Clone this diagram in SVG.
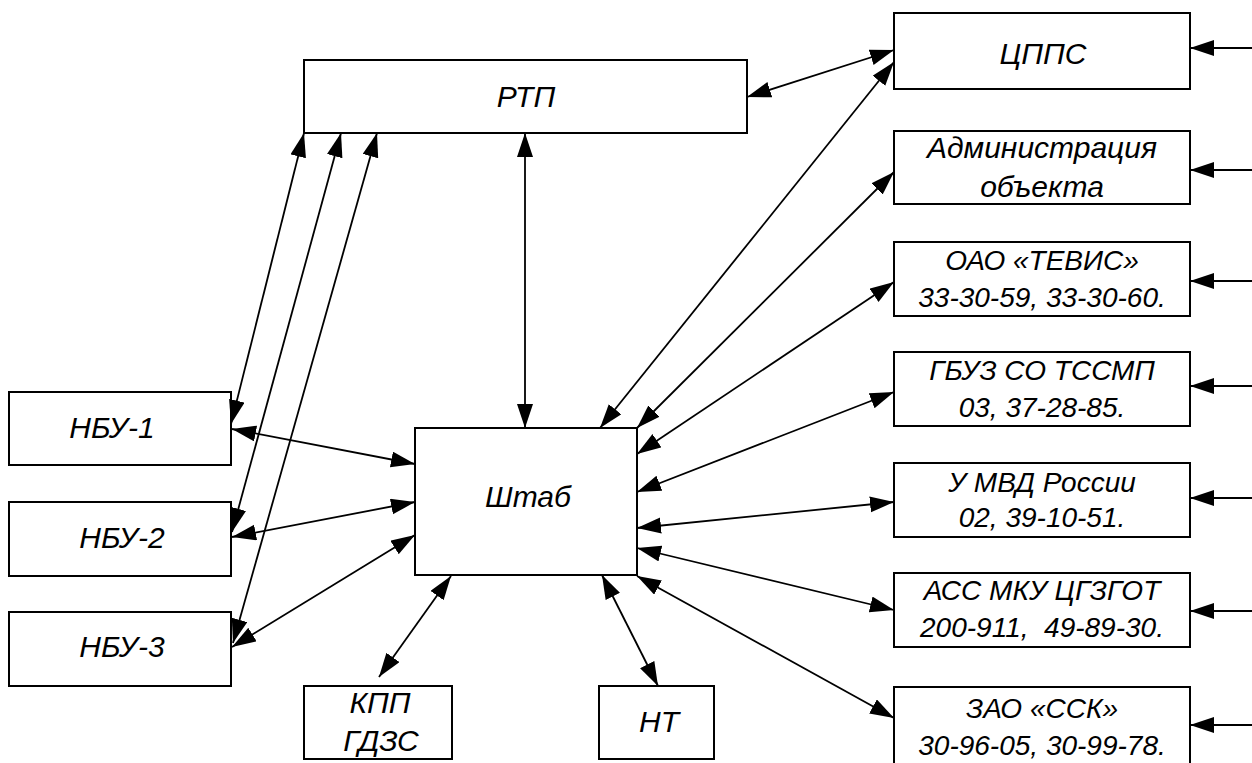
<svg xmlns="http://www.w3.org/2000/svg" width="1252" height="763" viewBox="0 0 1252 763">
<style>
.box{fill:#fff;stroke:#000;stroke-width:2}
.t{font-family:"Liberation Sans",Arial,sans-serif;font-style:italic;font-size:30px;text-anchor:middle;fill:#000}
.p{font-size:28px}
.c{stroke:#000;stroke-width:1.8;fill:none}
.bi{marker-start:url(#ah);marker-end:url(#ah)}
.one{marker-end:url(#ah)}
</style>
<defs>
<marker id="ah" markerUnits="userSpaceOnUse" markerWidth="26" markerHeight="17" refX="24" refY="8" orient="auto-start-reverse">
<path d="M0,0 L24,8 L0,16 z" fill="#000"/>
</marker>
</defs>
<rect width="1252" height="763" fill="#fff"/>
<g id="n-rtp"><rect class="box" x="304" y="60" width="443" height="73"/><text class="t" x="526" y="107">РТП</text></g>
<g id="n-shtab"><rect class="box" x="415" y="428" width="222" height="147"/><text class="t" x="528" y="507">Штаб</text></g>
<g id="n-cpps"><rect class="box" x="894" y="13" width="296" height="76"/><text class="t" x="1043" y="64">ЦППС</text></g>
<g id="n-admin"><rect class="box" x="894" y="131" width="296" height="73"/><text class="t" x="1042" y="158">Администрация</text><text class="t" x="1042" y="197">объекта</text></g>
<g id="n-tevis"><rect class="box" x="894" y="242" width="296" height="74"/><text class="t p" x="1042" y="270">ОАО «ТЕВИС»</text><text class="t p" x="1042" y="307">33-30-59, 33-30-60.</text></g>
<g id="n-gbuz"><rect class="box" x="894" y="352" width="296" height="74"/><text class="t p" x="1042" y="380">ГБУЗ СО ТССМП</text><text class="t p" x="1042" y="417">03, 37-28-85.</text></g>
<g id="n-mvd"><rect class="box" x="894" y="463" width="296" height="74"/><text class="t p" x="1042" y="492">У МВД России</text><text class="t p" x="1042" y="527">02, 39-10-51.</text></g>
<g id="n-ass"><rect class="box" x="894" y="573" width="296" height="74"/><text class="t p" x="1042" y="600">АСС МКУ ЦГЗГОТ</text><text class="t p" x="1042" y="637" xml:space="preserve">200-911,  49-89-30.</text></g>
<g id="n-ssk"><rect class="box" x="894" y="687" width="296" height="90"/><text class="t p" x="1042" y="718">ЗАО «ССК»</text><text class="t p" x="1042" y="755">30-96-05, 30-99-78.</text></g>
<g id="n-nbu1"><rect class="box" x="9" y="392" width="222" height="73"/><text class="t" x="112" y="438">НБУ-1</text></g>
<g id="n-nbu2"><rect class="box" x="9" y="502" width="222" height="74"/><text class="t" x="122" y="548">НБУ-2</text></g>
<g id="n-nbu3"><rect class="box" x="9" y="612" width="222" height="74"/><text class="t" x="122" y="657">НБУ-3</text></g>
<g id="n-kpp"><rect class="box" x="304" y="686" width="148" height="73"/><text class="t" x="380" y="713">КПП</text><text class="t" x="381" y="751">ГДЗС</text></g>
<g id="n-nt"><rect class="box" x="599" y="686" width="115" height="73"/><text class="t" x="659" y="732">НТ</text></g>
<g id="connectors">
<line class="c bi" x1="747" y1="97" x2="894" y2="50"/>
<line class="c bi" x1="600" y1="428" x2="894" y2="62"/>
<line class="c bi" x1="637" y1="428" x2="894" y2="172"/>
<line class="c bi" x1="637" y1="454" x2="894" y2="282"/>
<line class="c bi" x1="637" y1="492" x2="894" y2="392"/>
<line class="c bi" x1="637" y1="528" x2="894" y2="502"/>
<line class="c bi" x1="637" y1="548" x2="894" y2="610"/>
<line class="c bi" x1="637" y1="576" x2="894" y2="718"/>
<line class="c bi" x1="602" y1="575" x2="658" y2="686"/>
<line class="c bi" x1="451" y1="576" x2="379" y2="677"/>
<line class="c bi" x1="525" y1="133" x2="525" y2="428"/>
<line class="c bi" x1="415" y1="464" x2="232" y2="429"/>
<line class="c bi" x1="415" y1="502" x2="232" y2="537"/>
<line class="c bi" x1="415" y1="535" x2="232" y2="647"/>
<line class="c bi" x1="304" y1="133" x2="231" y2="424"/>
<line class="c bi" x1="341" y1="133" x2="232" y2="532"/>
<line class="c bi" x1="377" y1="133" x2="233" y2="643"/>
<line class="c one" x1="1252" y1="48" x2="1190" y2="48"/>
<line class="c one" x1="1252" y1="170" x2="1190" y2="170"/>
<line class="c one" x1="1252" y1="281" x2="1190" y2="281"/>
<line class="c one" x1="1252" y1="386" x2="1190" y2="386"/>
<line class="c one" x1="1252" y1="498" x2="1190" y2="498"/>
<line class="c one" x1="1252" y1="611" x2="1190" y2="611"/>
<line class="c one" x1="1252" y1="725" x2="1190" y2="725"/>
</g>
</svg>
